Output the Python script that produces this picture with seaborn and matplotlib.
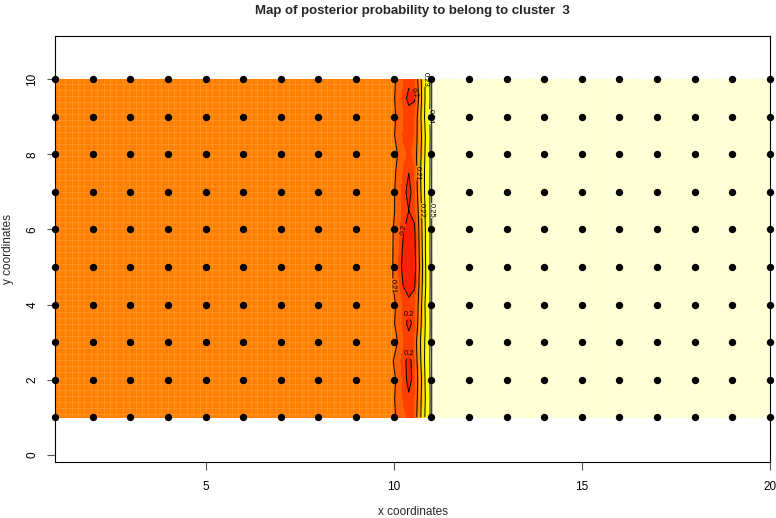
import numpy as np
import pandas as pd
import matplotlib
matplotlib.use("Agg")
import matplotlib.pyplot as plt
import seaborn as sns
from matplotlib.colors import ListedColormap, BoundaryNorm

sns.set_style("white")
plt.rcParams["font.family"] = ["Liberation Sans", "DejaVu Sans"]

# sampling sites (regular grid)
site_x = list(range(1, 21))
site_y = list(range(1, 11))

# posterior probability, left / right plateau values
left_value = 0.212
right_value = 0.252

# transition zone between x=9.95 and x=11.02
zone_x = [9.95, 10.1, 10.25, 10.4, 10.55, 10.65, 10.75, 10.85, 10.95, 11.02]
zone_y = [1.0, 1.5, 2.0, 2.5, 3.0, 3.5, 4.0, 4.5, 5.0, 5.5,
          6.0, 6.5, 7.0, 7.5, 8.0, 8.5, 9.0, 9.5, 10.0]
zone_vals = [
    [0.212, 0.209, 0.206, 0.204, 0.205, 0.213, 0.223, 0.232, 0.237, 0.252],
    [0.212, 0.208, 0.204, 0.201, 0.204, 0.212, 0.222, 0.231, 0.236, 0.252],
    [0.212, 0.209, 0.203, 0.198, 0.202, 0.211, 0.221, 0.232, 0.237, 0.252],
    [0.211, 0.207, 0.202, 0.198, 0.203, 0.213, 0.223, 0.233, 0.238, 0.252],
    [0.212, 0.210, 0.205, 0.203, 0.205, 0.214, 0.224, 0.232, 0.237, 0.252],
    [0.212, 0.208, 0.203, 0.198, 0.202, 0.211, 0.222, 0.231, 0.236, 0.252],
    [0.212, 0.209, 0.204, 0.202, 0.204, 0.210, 0.221, 0.232, 0.237, 0.252],
    [0.211, 0.206, 0.200, 0.197, 0.199, 0.208, 0.219, 0.230, 0.236, 0.252],
    [0.211, 0.205, 0.198, 0.195, 0.197, 0.206, 0.218, 0.230, 0.236, 0.252],
    [0.211, 0.206, 0.199, 0.196, 0.198, 0.207, 0.219, 0.231, 0.237, 0.252],
    [0.211, 0.207, 0.201, 0.197, 0.199, 0.208, 0.220, 0.231, 0.236, 0.252],
    [0.212, 0.208, 0.203, 0.200, 0.202, 0.210, 0.221, 0.232, 0.237, 0.252],
    [0.212, 0.208, 0.202, 0.198, 0.203, 0.212, 0.223, 0.233, 0.238, 0.252],
    [0.212, 0.209, 0.204, 0.200, 0.204, 0.213, 0.224, 0.233, 0.237, 0.252],
    [0.212, 0.210, 0.206, 0.204, 0.206, 0.213, 0.222, 0.232, 0.237, 0.252],
    [0.212, 0.208, 0.204, 0.202, 0.205, 0.212, 0.221, 0.231, 0.236, 0.252],
    [0.212, 0.209, 0.205, 0.203, 0.204, 0.212, 0.223, 0.233, 0.238, 0.252],
    [0.212, 0.208, 0.203, 0.198, 0.199, 0.209, 0.221, 0.232, 0.237, 0.252],
    [0.212, 0.209, 0.205, 0.202, 0.203, 0.211, 0.222, 0.232, 0.237, 0.252],
]

# full field: plateau columns at x=1 and x=20 around the transition zone
grid_x = [1.0] + zone_x + [20.0]
grid_z = np.array([[left_value] + row + [right_value] for row in zone_vals])

# R heat.colors(12)
heat = ["#FF0000", "#FF2000", "#FF4000", "#FF6000", "#FF8000", "#FF9F00",
        "#FFBF00", "#FFDF00", "#FFFF00", "#FFFF2A", "#FFFF80", "#FFFFD5"]
bounds = [0.19, 0.195, 0.2, 0.205, 0.21, 0.215, 0.22, 0.225, 0.23,
          0.235, 0.24, 0.245, 0.26]
cmap = ListedColormap(heat)
norm = BoundaryNorm(bounds, cmap.N)

fig = plt.figure(figsize=(7.76, 5.18), dpi=100)
ax = fig.add_axes([0.0709, 0.1081, 0.9214, 0.8224])

ax.contourf(grid_x, zone_y, grid_z, levels=bounds, cmap=cmap, norm=norm)

# faint cell seams like the raster rendering
seam = "#ffa040"
ax.vlines(np.arange(1.1, 10.0, 0.17), 1.0, 10.0, colors=seam, lw=0.5, alpha=0.75)
ax.hlines(np.arange(1.08, 10.0, 0.16), 1.0, 10.0, colors=seam, lw=0.5, alpha=0.75)
ax.vlines(np.arange(11.2, 20.0, 0.45), 1.0, 10.0, colors="#ffffe8", lw=0.5, alpha=0.8)

cs = ax.contour(grid_x, zone_y, grid_z, levels=[0.2, 0.21, 0.22, 0.23, 0.24, 0.25],
                colors="black", linewidths=0.7)
ax.clabel(cs, fmt="%g", fontsize=5.5, inline=True, inline_spacing=2)

pts = pd.DataFrame([(x, y) for y in site_y for x in site_x], columns=["x", "y"])
sns.scatterplot(data=pts, x="x", y="y", ax=ax, color="black", s=28,
                edgecolor="black", linewidth=0, zorder=5, clip_on=False)

ax.set_xlim(1, 20)
ax.set_ylim(-0.19, 11.15)
ax.set_xticks([5, 10, 15, 20])
ax.set_yticks([0, 2, 4, 6, 8, 10])
for lbl in ax.get_yticklabels():
    lbl.set_rotation(90)
    lbl.set_va("center")
ax.tick_params(direction="out", length=6, width=0.8, labelsize=8.5,
               bottom=True, left=True, colors="#555555", labelcolor="black")
ax.tick_params(axis="x", pad=8)
ax.tick_params(axis="y", pad=6)
for sp in ax.spines.values():
    sp.set_color("black")
    sp.set_linewidth(0.8)

ax.set_xlabel("x coordinates", fontsize=8.5, labelpad=9)
ax.set_ylabel("y coordinates", fontsize=8.5, labelpad=9)
fig.suptitle("Map of posterior probability to belong to cluster  3",
             fontsize=9.5, fontweight="bold", x=0.531, y=0.99, va="top")

fig.savefig("out.png", dpi=100)
